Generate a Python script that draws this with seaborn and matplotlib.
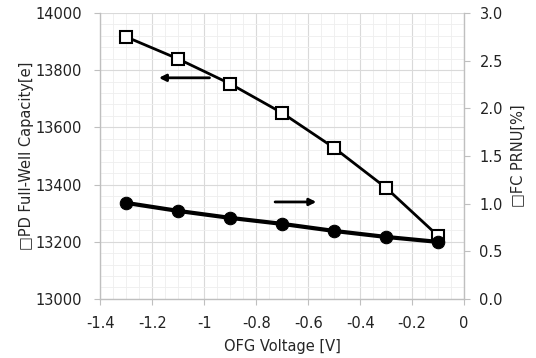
import numpy as np
import pandas as pd
import seaborn as sns
from matplotlib import pyplot as plt
from matplotlib.ticker import MultipleLocator

ofg_voltage = [-1.3, -1.1, -0.9, -0.7, -0.5, -0.3, -0.1]
full_well = [13916, 13839, 13752, 13650, 13528, 13388, 13220]
fc_prnu = [1.007, 0.923, 0.85, 0.787, 0.713, 0.65, 0.598]

sns.set_style("white")
plt.rcParams["font.family"] = ["DejaVu Sans"]
plt.rcParams["font.size"] = 10.5

df = pd.DataFrame({"v": ofg_voltage, "fw": full_well, "prnu": fc_prnu})

fig, ax = plt.subplots(figsize=(5.36, 3.58), dpi=100)
fig.subplots_adjust(left=0.187, right=0.866, top=0.964, bottom=0.165)

sns.lineplot(data=df, x="v", y="fw", ax=ax, color="black", linewidth=2,
             marker="s", markersize=8.5, markerfacecolor="white",
             markeredgecolor="black", markeredgewidth=1.5)
ax.set_xlim(-1.4, 0)
ax.set_ylim(13000, 14000)
ax.xaxis.set_major_locator(MultipleLocator(0.2))
ax.xaxis.set_minor_locator(MultipleLocator(0.05))
ax.yaxis.set_major_locator(MultipleLocator(200))
ax.yaxis.set_minor_locator(MultipleLocator(40))
ax.grid(which="major", color="#d9d9d9", linewidth=0.8)
ax.grid(which="minor", color="#eeeeee", linewidth=0.6)
ax.set_axisbelow(True)
ax.set_xticks(np.arange(-1.4, 0.01, 0.2))
ax.set_xticklabels(["-1.4", "-1.2", "-1", "-0.8", "-0.6", "-0.4", "-0.2", "0"])
ax.set_xlabel("OFG Voltage [V]", labelpad=6)
ax.set_ylabel("□PD Full-Well Capacity[e]", labelpad=1)

ax2 = ax.twinx()
sns.lineplot(data=df, x="v", y="prnu", ax=ax2, color="black", linewidth=3,
             marker="o", markersize=9, markeredgecolor="black")
ax2.set_ylim(0, 3)
ax2.set_yticks(np.arange(0, 3.01, 0.5))
ax2.set_yticklabels([f"{t:.1f}" for t in np.arange(0, 3.01, 0.5)])
ax2.set_ylabel("□FC PRNU[%]", labelpad=6)

for a in (ax, ax2):
    for s in a.spines.values():
        s.set_visible(False)
    a.tick_params(which="major", length=4, color="#bfbfbf", direction="out",
                  labelcolor="#222222", pad=9)
    a.tick_params(which="minor", length=0)
ax.tick_params(axis="x", pad=8)
ax.spines["left"].set_visible(True)
ax.spines["bottom"].set_visible(True)
ax2.spines["right"].set_visible(True)
for s in (ax.spines["left"], ax.spines["bottom"], ax2.spines["right"]):
    s.set_color("#bfbfbf")
    s.set_linewidth(1)
ax.tick_params(axis="both", which="major", left=True, bottom=True)
ax2.tick_params(axis="y", which="major", right=True, pad=7)

ax.annotate("", xy=(-1.185, 13773), xytext=(-0.969, 13773),
            arrowprops=dict(arrowstyle="-|>", color="black", lw=2, mutation_scale=10))
ax2.annotate("", xy=(-0.558, 1.017), xytext=(-0.738, 1.017),
             arrowprops=dict(arrowstyle="-|>", color="black", lw=2, mutation_scale=10))

fig.savefig("out.png")
